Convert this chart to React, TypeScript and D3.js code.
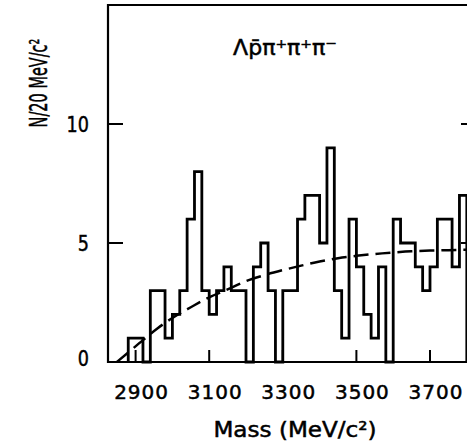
import React from 'react';
import * as d3 from 'd3';

// Histogram: 20 MeV bins starting at 2880 MeV
const binStart = 2880;
const binWidth = 20;
const counts = [
  1, 1, 0, 3, 3, 1, 2, 3, 6, 8,
  3, 2, 3, 4, 3, 3, 0, 4, 5, 3,
  0, 3, 3, 6, 7, 7, 5, 9, 3, 1,
  6, 4, 2, 1, 4, 0, 6, 5, 5, 4,
  3, 4, 6, 6, 4, 7,
];

// Dashed background curve
const curveMass = [2849, 2880, 2920, 2960, 3000, 3050, 3100, 3150, 3200, 3250, 3300, 3350, 3400, 3450, 3500, 3550, 3600, 3650, 3700, 3750, 3800, 3830];
const curveValue = [0, 0.4, 0.92, 1.42, 1.85, 2.3, 2.72, 3.05, 3.4, 3.65, 3.86, 4.05, 4.22, 4.36, 4.46, 4.54, 4.6, 4.65, 4.68, 4.7, 4.72, 4.73];

const xTicks = [2900, 3100, 3300, 3500, 3700];
const yTicks = [0, 5, 10];
const innerTicks = [5, 10];

const FONT = "'DejaVu Sans', sans-serif";

export default function App() {
  const W = 467;
  const H = 444;
  const x = d3.scaleLinear().domain([2825, 3825]).range([108, 476]);
  const y = d3.scaleLinear().domain([0, 15]).range([362, 5]);

  const histPts: [number, number][] = [[binStart, 0]];
  counts.forEach((c, i) => histPts.push([binStart + i * binWidth, c]));
  histPts.push([binStart + counts.length * binWidth, 0]);

  const step = d3
    .line<[number, number]>()
    .x((d) => x(d[0]))
    .y((d) => y(d[1]))
    .curve(d3.curveStepAfter);

  const curvePts: [number, number][] = curveMass.map((m, i) => [m, curveValue[i]]);
  const smooth = d3
    .line<[number, number]>()
    .x((d) => x(d[0]))
    .y((d) => y(d[1]))
    .curve(d3.curveMonotoneX);

  const [x0, x1] = x.range();
  const [y0, y1] = y.range();
  const textStroke = { stroke: '#000', strokeWidth: 0.5 };

  return (
    <svg
      width={W}
      height={H}
      style={{ position: 'absolute', left: 0, top: 0, background: '#fff' }}
      fontFamily={FONT}
    >
      <rect x={0} y={0} width={W} height={H} fill="#fff" />
      {/* frame */}
      <path
        d={`M${x0},${y0}V${y1}H${x1}V${y0}Z`}
        fill="none"
        stroke="#000"
        strokeWidth={2.2}
      />
      {/* y ticks, inward on both sides */}
      {innerTicks.map((t) => (
        <g key={'yt' + t}>
          <line x1={x0} x2={x0 + 15} y1={y(t)} y2={y(t)} stroke="#000" strokeWidth={2} />
          <line x1={x1} x2={x1 - 15} y1={y(t)} y2={y(t)} stroke="#000" strokeWidth={2} />
        </g>
      ))}
      {/* x ticks */}
      {xTicks.map((t) => (
        <line key={'xt' + t} x1={x(t)} x2={x(t)} y1={y0} y2={y0 - 12} stroke="#000" strokeWidth={2} />
      ))}
      {/* histogram */}
      <path d={step(histPts) || ''} fill="none" stroke="#000" strokeWidth={2.8} strokeLinejoin="miter" />
      {/* dashed curve */}
      <path
        d={smooth(curvePts) || ''}
        fill="none"
        stroke="#000"
        strokeWidth={2.5}
        strokeDasharray="15,7"
      />
      {/* x tick labels */}
      {xTicks.map((t) => (
        <text
          key={'xl' + t}
          x={x(t) + 6}
          y={399}
          textAnchor="middle"
          fontSize={20}
          letterSpacing={1}
          {...textStroke}
        >
          {t}
        </text>
      ))}
      {/* y tick labels */}
      {yTicks.map((t) => (
        <g key={'yl' + t} transform={`translate(89,${y(t) - (t === 0 ? 4 : 0)})`}>
          <text transform="scale(0.8,1)" textAnchor="end" dy="0.36em" fontSize={22} {...textStroke}>
            {t}
          </text>
        </g>
      ))}
      {/* axis titles */}
      <g transform="translate(295,437) scale(1.1,1)">
        <text textAnchor="middle" fontSize={21} {...textStroke}>
          Mass (MeV/c²)
        </text>
      </g>
      <g transform="translate(47,83) rotate(-90) scale(0.58,1)">
        <text textAnchor="middle" fontSize={25} {...textStroke}>
          N/20 MeV/c²
        </text>
      </g>
      {/* reaction label */}
      <g transform="translate(285,55) scale(1.05,1)">
        <text textAnchor="middle" fontSize={21} {...textStroke}>
          Λp̄π⁺π⁺π⁻
        </text>
      </g>
    </svg>
  );
}
